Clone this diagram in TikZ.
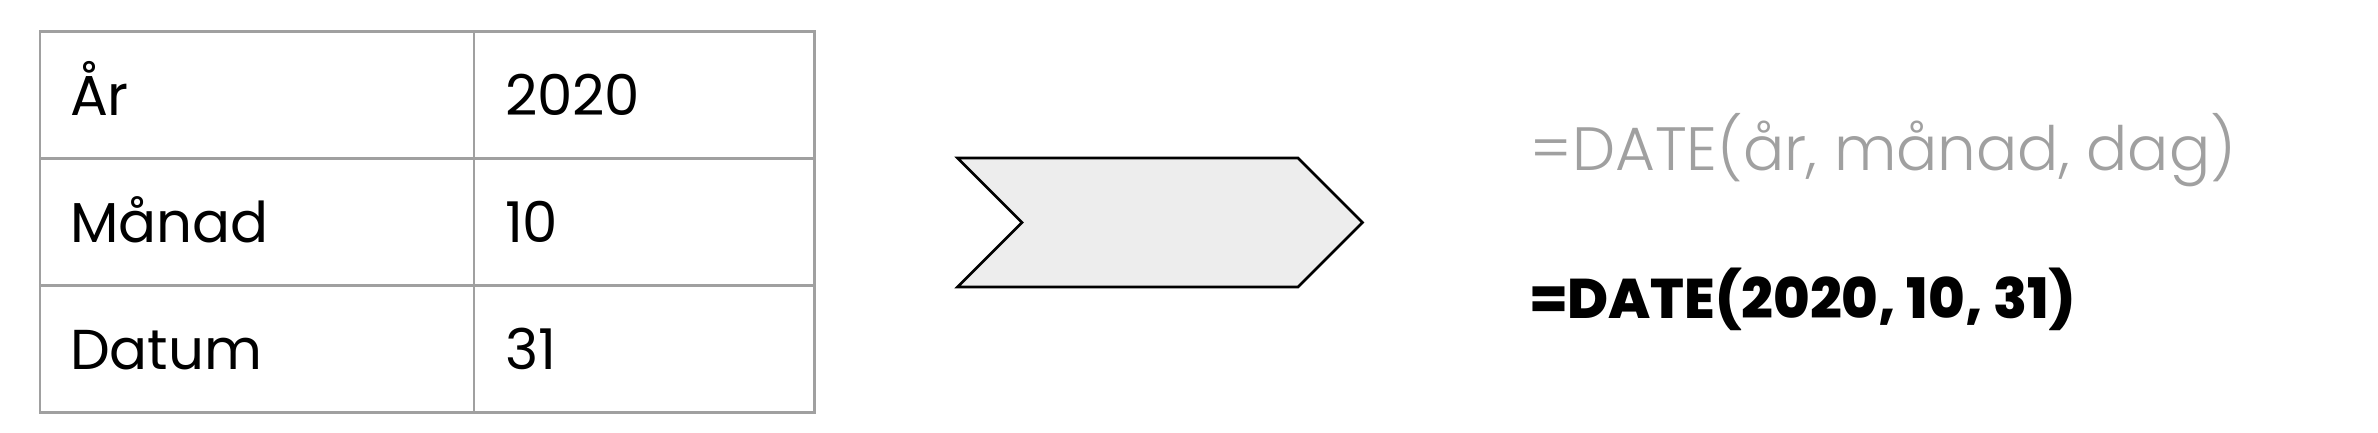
\documentclass[tikz,border=0pt]{standalone}
\usepackage{fontspec}
\setmainfont{Poppins}
\newfontfamily\heavyfont{Poppins ExtraBold}
\newfontfamily\lightfont{Poppins Light}
\usetikzlibrary{positioning}
\usetikzlibrary{shapes.symbols}
\definecolor{linegray}{HTML}{A0A0A0}
\definecolor{textgray}{HTML}{A0A0A0}
\definecolor{chevronfill}{HTML}{EDEDED}
\tikzset{
	cell/.style = {
		rectangle,
		draw=linegray,
		line width=0.85pt,
		outer sep=0pt,
		align=left,
		font=\fontsize{16}{20}\selectfont,
		text height=0.41cm,
		text depth=0pt,
		inner ysep=0pt,
		minimum height=1.273cm,
		anchor=north west
	},
	cell_key/.style = {
		cell,
		inner xsep=0.30cm,
		text width=3.74cm,
		minimum width=4.34cm
	},
	cell_val/.style = {
		cell,
		inner xsep=0.31cm,
		text width=2.78cm,
		minimum width=3.40cm
	},
	node_chevron/.style = {
		signal,
		signal from=west,
		signal to=east,
		signal pointer angle=90,
		draw=black,
		fill=chevronfill,
		line width=0.75pt,
		minimum width=4.05cm,
		minimum height=1.29cm,
		inner sep=0pt
	},
	formula/.style = {
		inner sep=0pt,
		anchor=base west
	},
	formula_gray/.style = {
		formula,
		textgray,
		font=\fontsize{17.4}{21}\selectfont\lightfont
	},
	formula_bold/.style = {
		formula,
		black,
		font=\fontsize{15.9}{19}\selectfont\heavyfont
	},
}

\begin{document}
\begin{tikzpicture}
\useasboundingbox (0,0) rectangle (23.78,4.32);
% table
\node [cell_key] (yr) at (0.40,4.01) {År};
\node [cell_val, right=0pt of yr] (yrval) {2020};
\node [cell_key, below=0pt of yr] (mon) {Månad};
\node [cell_val, right=0pt of mon] (monval) {10};
\node [cell_key, below=0pt of mon] (day) {Datum};
\node [cell_val, right=0pt of day] (dayval) {31};
% chevron
\node [node_chevron] (arrow) at (11.60,2.095) {};
% formulas
\node [formula_gray] (syntax) at (15.30,2.62) {=DATE(år, månad, dag)};
\node [formula_bold] (example) at (15.30,1.14) {=DATE(2020, 10, 31)};
\end{tikzpicture}
\end{document}
